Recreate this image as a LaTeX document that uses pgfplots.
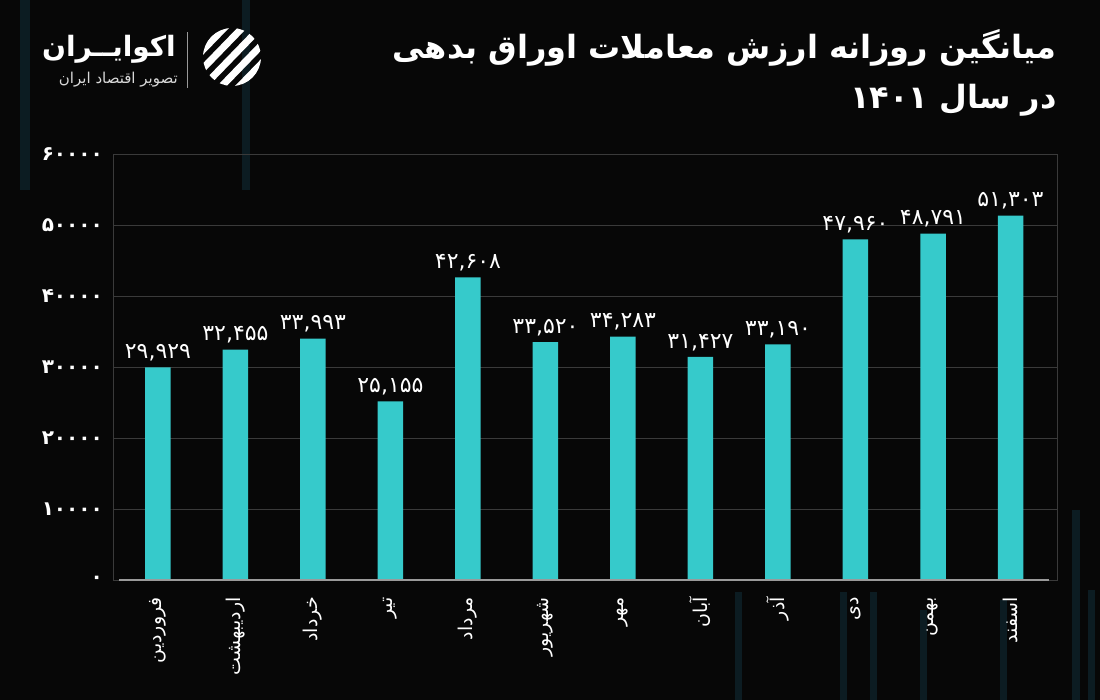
\documentclass[border=0pt]{standalone}
\usepackage{fontspec}
\usepackage{pgfplots}
\usepackage{pgfplotstable}
\pgfplotsset{compat=1.18}
\TeXXeTstate=1
\newfontfamily\fa[Script=Arabic]{DejaVu Sans}
\definecolor{bgc}{HTML}{070707}
\definecolor{barc}{HTML}{36CACB}
\definecolor{gridc}{HTML}{3A3A3A}
\definecolor{basec}{HTML}{9A9A9A}
\definecolor{decoc}{HTML}{0C1C22}

\pgfplotstableread{
x y lab
0 29929 ۲۹,۹۲۹
1 32455 ۳۲,۴۵۵
2 33993 ۳۳,۹۹۳
3 25155 ۲۵,۱۵۵
4 42608 ۴۲,۶۰۸
5 33520 ۳۳,۵۲۰
6 34283 ۳۴,۲۸۳
7 31427 ۳۱,۴۲۷
8 33190 ۳۳,۱۹۰
9 47960 ۴۷,۹۶۰
10 48791 ۴۸,۷۹۱
11 51303 ۵۱,۳۰۳
}\datatable

\begin{document}
\begin{tikzpicture}[x=1pt,y=1pt]
\fill[bgc] (0,0) rectangle (1100,700);
\useasboundingbox (0,0) rectangle (1100,700);
% faint decorative background bars
\fill[decoc] (20,510) rectangle (30,700);
\fill[decoc] (242,510) rectangle (250,700);
\fill[decoc] (1072,0) rectangle (1080,190);
\fill[decoc] (1088,0) rectangle (1095,110);
\fill[decoc] (735,0) rectangle (742,108);
\fill[decoc] (840,0) rectangle (847,108);
\fill[decoc] (870,0) rectangle (877,108);
\fill[decoc] (920,0) rectangle (927,90);
\fill[decoc] (1000,0) rectangle (1007,100);

\begin{axis}[
  at={(113pt,120pt)}, anchor=south west,
  scale only axis, width=944pt, height=426pt,
  xmin=-0.58, xmax=11.6, ymin=0, ymax=60000,
  scaled y ticks=false,
  axis line style={draw=gridc, line width=0.6pt},
  ytick={0,10000,20000,30000,40000,50000,60000},
  yticklabels={۰,۱۰۰۰۰,۲۰۰۰۰,۳۰۰۰۰,۴۰۰۰۰,۵۰۰۰۰,۶۰۰۰۰},
  ymajorgrids, grid style={draw=gridc, line width=0.8pt},
  xtick={0,...,11},
  xticklabels={فروردین,اردیبهشت,خرداد,تیر,مرداد,شهریور,مهر,آبان,آذر,دی,بهمن,اسفند},
  major tick length=0pt, tick style={draw=none},
  yticklabel style={font=\fa\bfseries\fontsize{20}{20}\selectfont, text=white, anchor=east, inner sep=0pt, xshift=-10pt},
  xticklabel style={font=\fa\fontsize{19}{19}\selectfont, text=white, rotate=90, anchor=east, inner sep=0pt, xshift=-17pt},
  ybar, bar width=25.5pt, bar shift=0pt,
  point meta=explicit symbolic,
  nodes near coords,
  nodes near coords style={font=\fa\fontsize{22}{22}\selectfont, text=white, anchor=south, inner sep=0pt, yshift=6pt},
  clip=false,
]
\addplot[fill=barc, draw=none] table[x=x, y=y, meta=lab] \datatable;
\draw[basec, line width=1.6pt] (axis cs:-0.5,0) -- (axis cs:11.5,0);
\end{axis}

% title
\node[anchor=east, inner sep=0pt, text=white, font=\fa\bfseries\fontsize{32}{32}\selectfont] at (1057,652) {\beginR میانگین روزانه ارزش معاملات اوراق بدهی\endR};
\node[anchor=east, inner sep=0pt, text=white, font=\fa\bfseries\fontsize{32}{32}\selectfont] at (1057,600) {\beginR در سال \beginL ۱۴۰۱\endL\endR};

% logo
\node[anchor=east, inner sep=0pt, text=white, font=\fa\bfseries\fontsize{28}{28}\selectfont] at (176,651) {\beginR اکوایــران\endR};
\node[anchor=east, inner sep=0pt, text=white!85!black, font=\fa\fontsize{15}{15}\selectfont] at (178,620) {\beginR تصویر اقتصاد ایران\endR};
\draw[white!60!black, line width=0.6pt] (187,612) -- (187,668);
\begin{scope}
\clip (232,643) circle (29);
\foreach \d in {-36,-18,0,18,36} {
  \draw[white, line width=7pt] (200+\d,610) -- (264+\d,676);
}
\end{scope}
\end{tikzpicture}
\end{document}
